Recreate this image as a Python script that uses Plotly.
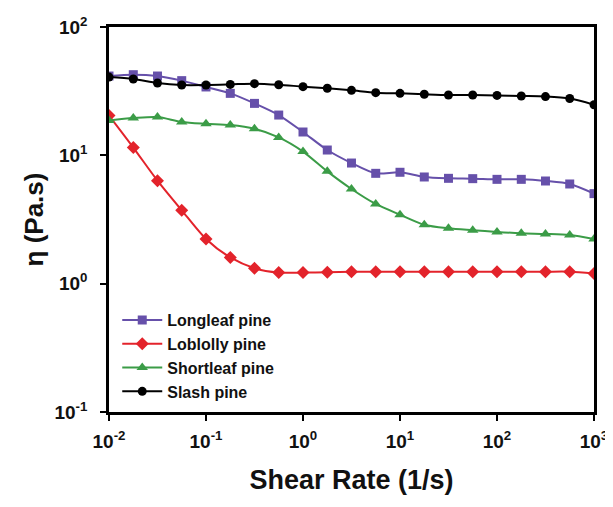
import plotly.graph_objects as go

# Shear rate (1/s): 4 points per decade from 1e-2 to 1e3
shear_rate = [0.01, 0.0178, 0.0316, 0.0562, 0.1, 0.178, 0.316, 0.562, 1.0, 1.78, 3.16,
              5.62, 10.0, 17.8, 31.6, 56.2, 100.0, 178.0, 316.0, 562.0, 1000.0]

longleaf = [41.5, 42.5, 41.5, 38.2, 34.1, 30.4, 25.4, 20.6, 15.2, 11.0, 8.71,
            7.24, 7.38, 6.78, 6.62, 6.58, 6.50, 6.50, 6.31, 5.98, 5.03]
loblolly = [20.4, 11.5, 6.35, 3.73, 2.23, 1.60, 1.32, 1.22, 1.22, 1.23, 1.24,
            1.24, 1.24, 1.24, 1.24, 1.24, 1.24, 1.24, 1.24, 1.24, 1.20]
shortleaf = [18.7, 19.5, 19.9, 18.2, 17.6, 17.2, 16.1, 13.8, 10.7, 7.50, 5.47,
             4.18, 3.45, 2.88, 2.70, 2.61, 2.53, 2.47, 2.44, 2.39, 2.23]
slash = [40.7, 39.3, 36.6, 35.3, 35.3, 35.7, 36.2, 35.5, 34.3, 33.3, 32.1,
         30.8, 30.4, 29.9, 29.5, 29.5, 29.3, 29.0, 28.7, 27.7, 24.8]

series_names = ["Longleaf pine", "Loblolly pine", "Shortleaf pine", "Slash pine"]
series_values = [longleaf, loblolly, shortleaf, slash]
colors = ["#6650aa", "#e3232b", "#3b9c47", "#000000"]
symbols = ["square", "diamond", "triangle-up", "circle"]
sizes = [9, 10, 10, 9]

x_tickvals = [0.01, 0.1, 1, 10, 100, 1000]
x_ticktext = ["10<sup>-2</sup>", "10<sup>-1</sup>", "10<sup>0</sup>",
              "10<sup>1</sup>", "10<sup>2</sup>", "10<sup>3</sup>"]
y_tickvals = [0.1, 1, 10, 100]
y_ticktext = ["10<sup>-1</sup>", "10<sup>0</sup>", "10<sup>1</sup>", "10<sup>2</sup>"]

FONT = "Liberation Sans, Arial, sans-serif"

fig = go.Figure()
for name, vals, c, s, sz in zip(series_names, series_values, colors, symbols, sizes):
    fig.add_trace(go.Scatter(
        x=shear_rate, y=vals, name=name, mode="lines+markers",
        line=dict(color=c, width=2, shape="spline", smoothing=0.8),
        marker=dict(color=c, symbol=s, size=sz),
    ))

axis_common = dict(
    type="log", showgrid=False, zeroline=False,
    showline=True, linecolor="black", linewidth=2.5, mirror=True,
    ticks="outside", ticklen=6, tickwidth=2, tickcolor="black",
    tickfont=dict(family=FONT, size=19, color="#111", weight="bold"),
)

fig.update_xaxes(
    range=[-2, 3], tickvals=x_tickvals, ticktext=x_ticktext, ticklabelstandoff=4,
    title=dict(text="Shear Rate (1/s)", font=dict(family=FONT, size=27, color="#111", weight="bold"), standoff=20),
    **axis_common,
)
fig.update_yaxes(
    range=[-1, 2], tickvals=y_tickvals, ticktext=y_ticktext, ticklabelstandoff=9,
    title=dict(text="η (Pa.s)", font=dict(family=FONT, size=26, color="#111", weight="bold"), standoff=4),
    **axis_common,
)

# page body has an 8px default margin; size the figure so the plot area lands where the reference's does
fig.update_layout(
    width=605, height=499,
    margin=dict(l=101, r=19, t=19, b=95, autoexpand=False),
    paper_bgcolor="white", plot_bgcolor="white",
    showlegend=True,
    legend=dict(
        x=0.017, y=0.283, xanchor="left", yanchor="top",
        bgcolor="rgba(0,0,0,0)",
        font=dict(family=FONT, size=16, color="#111", weight="bold"),
        itemwidth=40,
        tracegroupgap=0,
    ),
)

fig.write_html("out.html")
